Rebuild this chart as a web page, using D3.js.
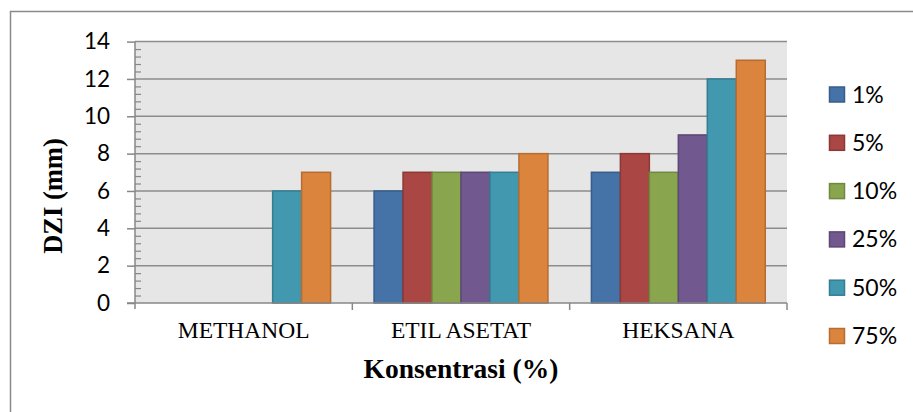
<!DOCTYPE html>
<html>
<head>
<meta charset="utf-8">
<script src="https://cdn.jsdelivr.net/npm/d3@7"></script>
<style>
  html, body { margin: 0; padding: 0; background: #fff; }
  svg { display: block; }
</style>
</head>
<body>
<svg id="chart" width="913" height="412"></svg>
<script>
const categories = ["METHANOL", "ETIL ASETAT", "HEKSANA"];
const seriesNames = ["1%", "5%", "10%", "25%", "50%", "75%"];
const values1  = [0, 6, 7];
const values5  = [0, 7, 8];
const values10 = [0, 7, 7];
const values25 = [0, 7, 9];
const values50 = [6, 7, 12];
const values75 = [7, 8, 13];
const yTicks = [0, 2, 4, 6, 8, 10, 12, 14];
const yTitle = "DZI (mm)";
const xTitle = "Konsentrasi (%)";

const seriesValues = [values1, values5, values10, values25, values50, values75];
const fills   = ["#4572a7", "#aa4643", "#89a54e", "#71588f", "#4198af", "#db843d"];
const strokes = ["#385d8a", "#8c3836", "#71893f", "#5c4776", "#357d91", "#b66d31"];

const svg = d3.select("#chart");

// outer chart border
svg.append("rect")
  .attr("x", 10.5).attr("y", 11.5)
  .attr("width", 930).attr("height", 430)
  .attr("fill", "#fff").attr("stroke", "#8a8a8a").attr("stroke-width", 1.5);

const plot = { left: 135, right: 787, top: 41.6, bottom: 303 };

const x0 = d3.scaleBand().domain(categories).range([plot.left, plot.right]).padding(0);
const x1 = d3.scaleBand().domain(seriesNames).range([0, x0.bandwidth()])
  .paddingInner(0).paddingOuter(0.75);
const y = d3.scaleLinear().domain([0, 14]).range([plot.bottom, plot.top]);

// plot background
svg.append("rect")
  .attr("x", plot.left).attr("y", plot.top)
  .attr("width", plot.right - plot.left).attr("height", plot.bottom - plot.top)
  .attr("fill", "#e6e6e6");

// gridlines
svg.append("g").selectAll("line").data(yTicks.filter(d => d > 0)).join("line")
  .attr("x1", plot.left).attr("x2", plot.right)
  .attr("y1", d => y(d)).attr("y2", d => y(d))
  .attr("stroke", "#8c8c8c").attr("stroke-width", 1.5);

// bars
const data = [];
categories.forEach((c, ci) => {
  seriesNames.forEach((s, si) => {
    data.push({ cat: c, ser: s, si: si, v: seriesValues[si][ci] });
  });
});
svg.append("g").selectAll("rect").data(data.filter(d => d.v > 0)).join("rect")
  .attr("x", d => x0(d.cat) + x1(d.ser))
  .attr("y", d => y(d.v))
  .attr("width", x1.bandwidth())
  .attr("height", d => y(0) - y(d.v))
  .attr("fill", d => fills[d.si])
  .attr("stroke", d => strokes[d.si])
  .attr("stroke-width", 1.5);

// y axis: major ticks outside, minor ticks inside
const yAxis = d3.axisLeft(y).tickValues(yTicks).tickSize(8).tickPadding(17).tickFormat(d3.format("d"));
const gy = svg.append("g").attr("transform", `translate(${plot.left},0)`).call(yAxis);
gy.select(".domain").remove();
gy.selectAll(".tick line").attr("stroke", "#878787").attr("stroke-width", 1.5);
gy.selectAll(".tick text")
  .attr("font-family", "Lato, 'Open Sans', sans-serif")
  .attr("font-size", "22.5px").attr("fill", "#000");

const minorTicks = d3.range(0, 14.001, 0.4).filter(v => Math.abs(v / 2 - Math.round(v / 2)) > 0.01);
const gMinor = svg.append("g").attr("transform", `translate(${plot.left},0)`)
  .call(d3.axisRight(y).tickValues(minorTicks).tickSize(6).tickFormat(""));
gMinor.select(".domain").remove();
gMinor.selectAll(".tick line").attr("stroke", "#878787").attr("stroke-width", 1.2);

// y axis line
svg.append("line")
  .attr("x1", plot.left).attr("x2", plot.left)
  .attr("y1", plot.top).attr("y2", plot.bottom + 6)
  .attr("stroke", "#878787").attr("stroke-width", 1.5);

// x axis
svg.append("line")
  .attr("x1", plot.left - 8).attr("x2", plot.right)
  .attr("y1", plot.bottom).attr("y2", plot.bottom)
  .attr("stroke", "#878787").attr("stroke-width", 1.5);
const boundaries = categories.map(c => x0(c) + x0.bandwidth());
svg.append("g").selectAll("line").data(boundaries).join("line")
  .attr("x1", d => d).attr("x2", d => d)
  .attr("y1", plot.bottom).attr("y2", plot.bottom + 7)
  .attr("stroke", "#878787").attr("stroke-width", 1.5);

svg.append("g").selectAll("text").data(categories).join("text")
  .attr("x", d => x0(d) + x0.bandwidth() / 2)
  .attr("y", 338)
  .attr("text-anchor", "middle")
  .attr("font-family", "'Liberation Serif', 'Times New Roman', serif")
  .attr("font-size", "23.5px").attr("fill", "#000")
  .text(d => d);

// axis titles
svg.append("text")
  .attr("x", (plot.left + plot.right) / 2).attr("y", 378)
  .attr("text-anchor", "middle")
  .attr("font-family", "'Liberation Serif', 'Times New Roman', serif")
  .attr("font-weight", "bold").attr("font-size", "27.5px").attr("fill", "#000")
  .text(xTitle);

svg.append("text")
  .attr("transform", "translate(62,196) rotate(-90)")
  .attr("text-anchor", "middle")
  .attr("font-family", "'Liberation Serif', 'Times New Roman', serif")
  .attr("font-weight", "bold").attr("font-size", "26.5px").attr("fill", "#000")
  .text(yTitle);

// legend
const legendY = d3.scalePoint().domain(seriesNames).range([94.5, 336]);
const lg = svg.append("g").selectAll("g").data(seriesNames).join("g")
  .attr("transform", d => `translate(829,${legendY(d)})`);
lg.append("rect")
  .attr("x", 0.5).attr("y", -7.5).attr("width", 15).attr("height", 15)
  .attr("fill", (d, i) => fills[i]).attr("stroke", (d, i) => strokes[i]).attr("stroke-width", 1.5);
lg.append("text")
  .attr("x", 23).attr("y", 8)
  .attr("font-family", "Lato, 'Open Sans', sans-serif")
  .attr("font-size", "23px").attr("fill", "#000")
  .text(d => d);
</script>
</body>
</html>
